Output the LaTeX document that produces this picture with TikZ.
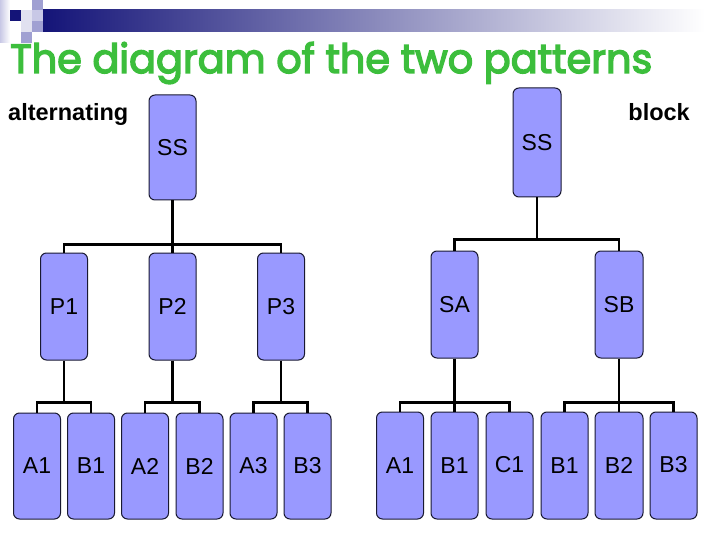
\documentclass[tikz,border=0pt]{standalone}
\usepackage{fontspec}
\usetikzlibrary{calc}
\newfontfamily\arialf{Liberation Sans}
\newfontfamily\titlef[FakeBold=3.5]{Poppins}
\definecolor{boxfill}{RGB}{153,153,255}
\definecolor{boxline}{RGB}{25,25,50}
\definecolor{titlegreen}{RGB}{60,190,60}
\definecolor{navyb}{RGB}{20,20,120}
\definecolor{lav1}{RGB}{200,200,230}
\definecolor{lav2}{RGB}{160,160,210}
\definecolor{lav3}{RGB}{225,225,240}
\begin{document}
\begin{tikzpicture}[x=1pt,y=-1pt,
  tbox/.style={draw=boxline,line width=1pt,fill=boxfill,rounded corners=6pt,
    minimum width=47pt,minimum height=106pt,inner sep=0pt,
    font=\arialf\fontsize{23}{23}\selectfont},
  conn/.style={draw=black,line width=2.3pt},
  lbl/.style={inner sep=0pt,font=\arialf\bfseries\fontsize{23.5}{24}\selectfont}]
\useasboundingbox (0,0) rectangle (720,540);
\fill[white] (0,0) rectangle (720,540);
% header decoration
\shade[left color=lav1,right color=white] (0,0) rectangle (10,43);
\fill[navyb] (10,10) rectangle (21,21);
\fill[lav3] (21,10) rectangle (32,21);
\fill[lav1] (32,10) rectangle (43,21);
\fill[lav2] (32,0) rectangle (43,10);
\fill[lav3] (21,21) rectangle (32,32);
\fill[lav2] (32,21) rectangle (43,32);
\fill[lav2] (21,32) rectangle (32,43);
\shade[left color=navyb,right color=white] (43,10) rectangle (705,32);
% title
\node[anchor=base west,inner sep=0pt,text=titlegreen] (title) at (10,73)
  {\resizebox{642pt}{31pt}{\titlef The diagram of the two patterns}};
\node[lbl,anchor=base west] (alt) at (8,121) {alternating};
\node[lbl,anchor=base east] (blk) at (690,121) {block};
% left tree
\node[tbox,minimum height=105pt] (ssL) at (172.5,147.5) {SS};
\node[tbox,minimum height=107pt] (p1) at (64,306.5) {P1};
\node[tbox,minimum height=107pt] (p2) at (172.5,306.5) {P2};
\node[tbox,minimum height=107pt] (p3) at (281,306.5) {P3};
\node[tbox] (a1) at (37,466) {A1};
\node[tbox] (b1) at (91,466) {B1};
\node[tbox] (a2) at (145,466) {A2};
\node[tbox] (b2) at (199.5,466) {B2};
\node[tbox] (a3) at (253.5,466) {A3};
\node[tbox] (b3) at (307.5,466) {B3};
\draw[conn] (ssL.south) -- (p2.north);
\draw[conn] (p1.north) -- ++(0,-8) -| (p3.north);
\draw[conn] (a1.north) -- ++(0,-10) -| (b1.north);
\draw[conn] (a2.north) -- ++(0,-10) -| (b2.north);
\draw[conn] (a3.north) -- ++(0,-10) -| (b3.north);
\draw[conn] (p1.south) -- ($(p1.south |- a1.north)+(0,-10)$);
\draw[conn] (p2.south) -- ($(p2.south |- a2.north)+(0,-10)$);
\draw[conn] (p3.south) -- ($(p3.south |- a3.north)+(0,-10)$);
% right tree
\node[tbox,minimum height=109pt,minimum width=48pt] (ssR) at (537,142.5) {SS};
\node[tbox,minimum height=107pt] (sa) at (454.5,304.5) {SA};
\node[tbox,minimum height=107pt,minimum width=48pt] (sb) at (619,304.5) {SB};
\node[tbox,minimum height=107pt] (ra1) at (400,465.5) {A1};
\node[tbox,minimum height=107pt] (rb1) at (454.5,465.5) {B1};
\node[tbox,minimum height=107pt] (rc1) at (509.5,465.5) {\raisebox{2pt}{C1}};
\node[tbox,minimum height=107pt] (rb1b) at (564.5,465.5) {B1};
\node[tbox,minimum height=107pt,minimum width=48pt] (rb2) at (619,465.5) {B2};
\node[tbox,minimum height=107pt] (rb3) at (673.5,465.5) {\raisebox{2pt}{B3}};
\draw[conn] (sa.north) -- ++(0,-11) -| (sb.north);
\draw[conn] (ssR.south) -- ($(ssR.south |- sa.north)+(0,-11)$);
\draw[conn] (sa.south) -- (rb1.north);
\draw[conn] (sb.south) -- (rb2.north);
\draw[conn] (ra1.north) -- ++(0,-9) -| (rc1.north);
\draw[conn] (rb1b.north) -- ++(0,-9) -| (rb3.north);
\end{tikzpicture}
\end{document}
